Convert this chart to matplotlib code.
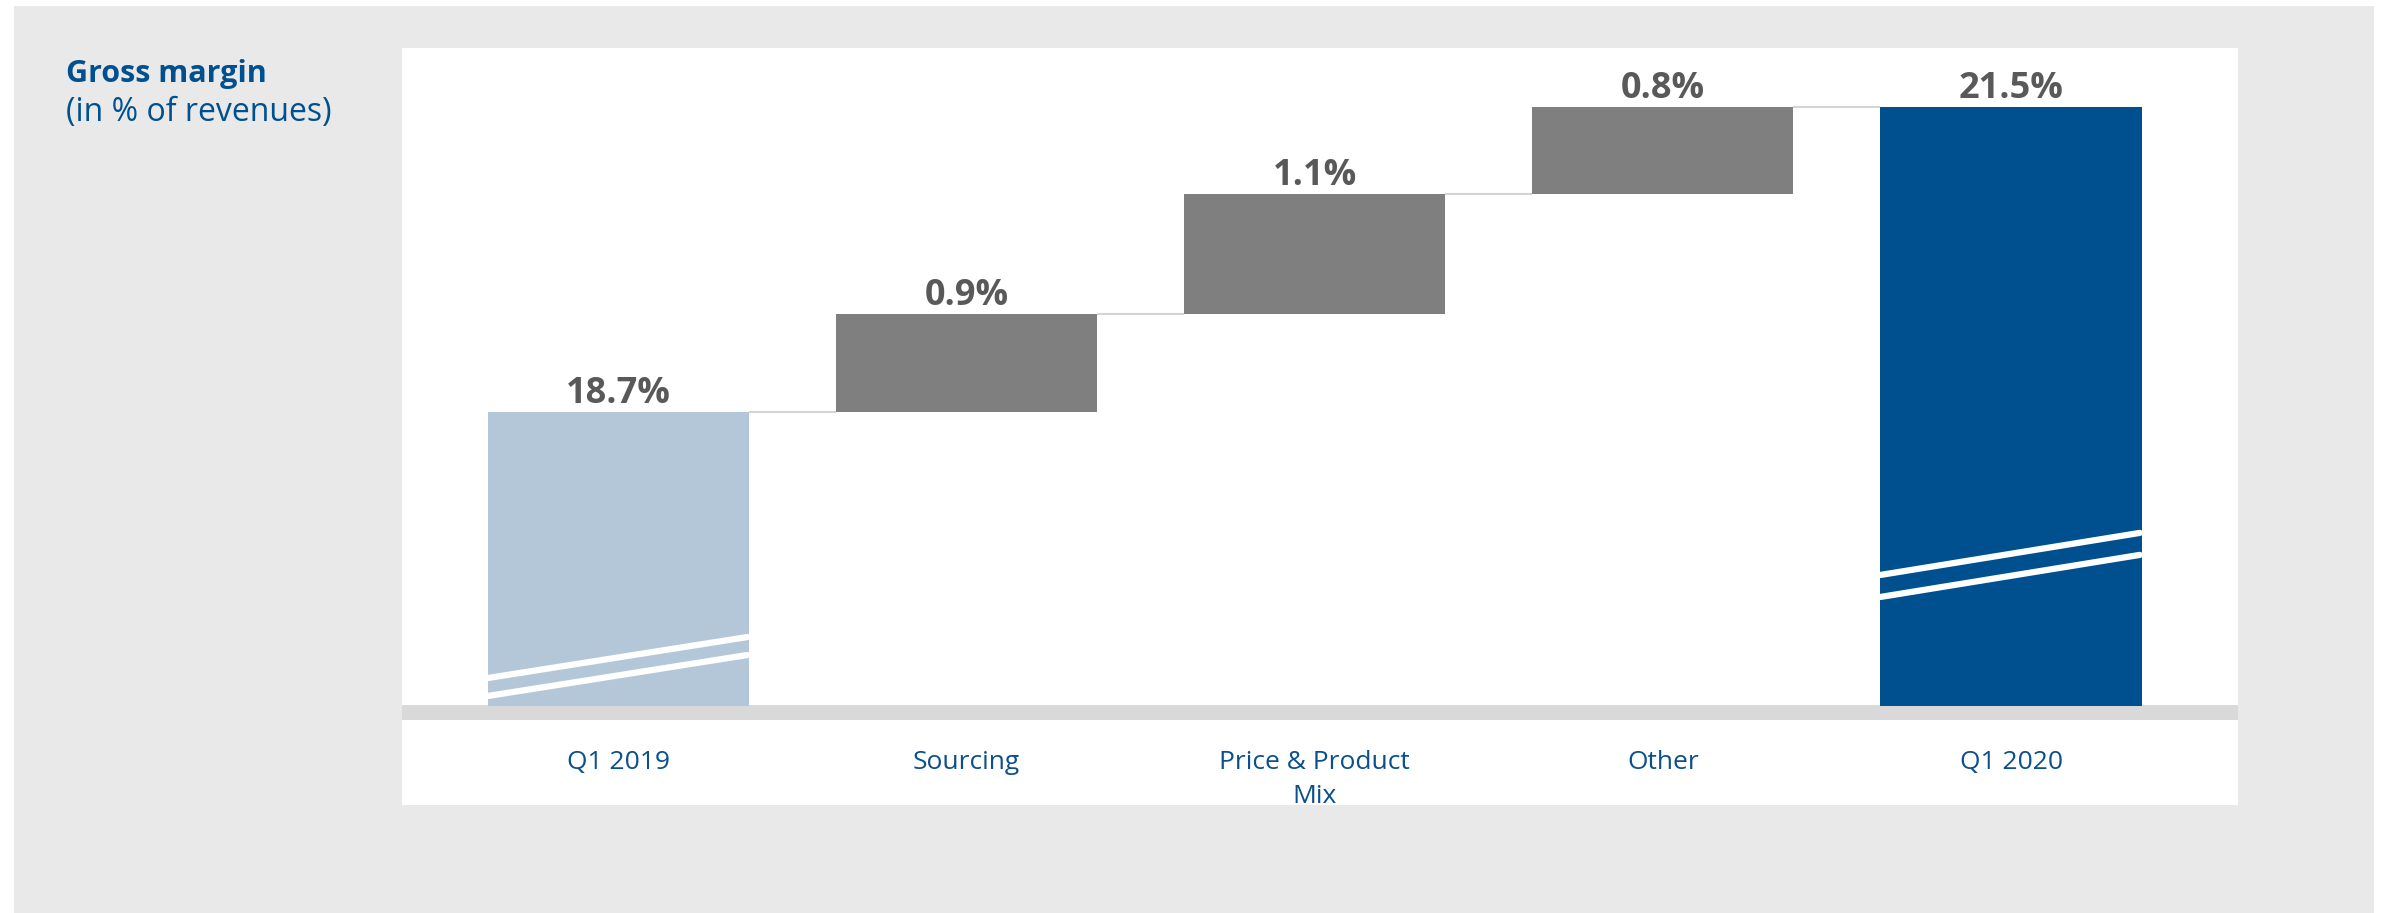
import matplotlib
matplotlib.use("Agg")
import matplotlib.pyplot as plt
from matplotlib.patches import Rectangle

# ---- data ----
categories = ["Q1 2019", "Sourcing", "Price & Product\nMix", "Other", "Q1 2020"]
values = [18.7, 0.9, 1.1, 0.8, 21.5]
kinds = ["total", "delta", "delta", "delta", "total"]
value_labels = ["18.7%", "0.9%", "1.1%", "0.8%", "21.5%"]

# ---- style ----
AXIS_MIN = 16.0
AXIS_MAX = 22.04
BG = "#e9e9e9"
C_START = "#b3c7d8"
C_END = "#00508f"
C_DELTA = "#7f7f7f"
C_LABEL = "#595959"
C_CAT = "#0b4f8c"
C_CONN = "#d4d4d4"
BAR_W = 0.75

W, H = 2389, 913
fig = plt.figure(figsize=(W / 100, H / 100), dpi=100, facecolor="white")

def fx(px):
    return px / W

def fy(py):
    return 1 - py / H

# textured-paper background area (flat)
fig.patches.append(Rectangle((fx(14), fy(913)), fx(2374) - fx(14), fy(6) - fy(913),
                             transform=fig.transFigure, facecolor=BG, edgecolor="none", zorder=-3))
# white panel
fig.patches.append(Rectangle((fx(402), fy(805)), fx(2238) - fx(402), fy(48) - fy(805),
                             transform=fig.transFigure, facecolor="white", edgecolor="none", zorder=-2))
# baseline band
fig.patches.append(Rectangle((fx(402), fy(720)), fx(2238) - fx(402), fy(705) - fy(720),
                             transform=fig.transFigure, facecolor="#d9d9d9", edgecolor="none", zorder=-1))

ax = fig.add_axes([fx(402), fy(706), fx(2238) - fx(402), fy(48) - fy(706)])
ax.set_zorder(2)
ax.set_facecolor("none")
ax.set_xlim(-0.622, 4.652)
ax.set_ylim(AXIS_MIN, AXIS_MAX)
for s in ax.spines.values():
    s.set_visible(False)
ax.set_yticks([])

running = 0.0
tops = []
for i, (v, k) in enumerate(zip(values, kinds)):
    if k == "total":
        bottom, top = AXIS_MIN, v
        color = C_START if i == 0 else C_END
        running = v
    else:
        bottom, top = running, running + v
        color = C_DELTA
        running = top
    ax.bar(i, top - bottom, bottom=bottom, width=BAR_W, color=color, edgecolor="none", zorder=3)
    tops.append(top)
    ax.text(i, top + 0.085, value_labels[i], ha="center", va="baseline", fontsize=26,
            fontweight="bold", color=C_LABEL, family="Open Sans", zorder=5)

# connectors
for i in range(len(values) - 1):
    ax.plot([i + BAR_W / 2, i + 1 - BAR_W / 2], [tops[i], tops[i]], color=C_CONN, lw=1.5,
            zorder=2, solid_capstyle="butt")

# break marks (white double slashes)
def break_mark(i, y_left, rise, gap):
    x0, x1 = i - BAR_W / 2, i + BAR_W / 2 - 0.005
    for off in (0, gap):
        ax.plot([x0, x1], [y_left + off, y_left + rise + off], color="white", lw=4.5,
                solid_capstyle="round", zorder=4)

break_mark(0, 16.092, 0.376, 0.165)
break_mark(4, 17.001, 0.386, 0.202)

# category labels
ax.set_xticks(range(len(categories)))
ax.set_xticklabels(categories, fontsize=19, color=C_CAT, family="Open Sans", linespacing=1.45)
ax.tick_params(axis="x", length=0, pad=32)

# title
fig.text(fx(66), fy(82), "Gross margin", fontsize=22, fontweight="bold", color="#00508f",
         family="Open Sans", ha="left", va="baseline")
fig.text(fx(66), fy(121), "(in % of revenues)", fontsize=23, color="#00508f",
         family="Open Sans", ha="left", va="baseline")

fig.savefig("out.png", dpi=100, facecolor="white")
